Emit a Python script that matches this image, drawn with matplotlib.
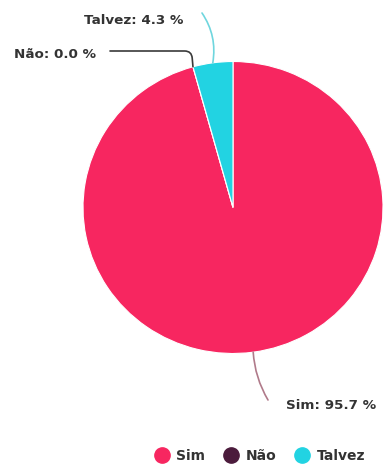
import numpy as np
import matplotlib.pyplot as plt
from matplotlib.lines import Line2D

# Data
labels = ['Sim', 'Não', 'Talvez']
values = [95.7, 0.0, 4.3]
colors = ['#f72660', '#4b1b3c', '#22d3e2']
line_colors = ['#b07a8a', '#3a3a3a', '#6fd6de']

plt.rcParams['font.family'] = ['DejaVu Sans']

W, H = 384, 465
fig = plt.figure(figsize=(W / 100, H / 100), dpi=100)

# pie centre (233, 207) px, slightly squashed: rx 150, ry 146
cx, cy, rx, ry = 233, 207.5, 150, 146
ax = fig.add_axes([(cx - rx) / W, (H - cy - ry) / H, 2 * rx / W, 2 * ry / H])
wedges, _ = ax.pie(values, colors=colors, startangle=90, counterclock=False,
                   radius=1, wedgeprops=dict(linewidth=0.8, edgecolor='white'))
ax.set_xlim(-1, 1)
ax.set_ylim(-1, 1)
ax.set_aspect('auto')
ax.axis('off')

# label anchor (px), alignment, line end (px), connection style
label_pos = {
    'Sim': ((286, 405), 'left', (268, 400), 'arc3,rad=-0.12'),
    'Não': ((96, 55), 'right', (110, 51), 'angle,angleA=0,angleB=95,rad=7'),
    'Talvez': ((183, 21), 'right', (202, 13), 'arc3,rad=-0.2'),
}

for w, lab, v, lc in zip(wedges, labels, values, line_colors):
    ang = (w.theta1 + w.theta2) / 2 if v > 0 else w.theta1
    x, y = np.cos(np.radians(ang)), np.sin(np.radians(ang))
    (tx, ty), ha, (ex, ey), cs = label_pos[lab]
    ax.annotate('', xy=(x, y), xycoords='data',
                xytext=(ex / W, 1 - ey / H), textcoords='figure fraction',
                arrowprops=dict(arrowstyle='-', color=lc, lw=1.2,
                                connectionstyle=cs, shrinkA=0, shrinkB=0))
    fig.text(tx / W, 1 - ty / H, f'{lab}: {v:.1f} %', ha=ha, va='center',
             fontsize=9.7, fontweight='bold', color='#333333')

handles = [Line2D([], [], marker='o', ls='', markersize=11, markerfacecolor=c,
                  markeredgecolor=c) for c in colors]
fig.legend(handles, labels, loc='center', bbox_to_anchor=(258 / W, 1 - 456 / H),
           ncol=3, frameon=False, handletextpad=0.3, columnspacing=1.1,
           handlelength=1.5, prop=dict(size=10, weight='bold'),
           labelcolor='#333333')

fig.savefig('out.png', dpi=100)
